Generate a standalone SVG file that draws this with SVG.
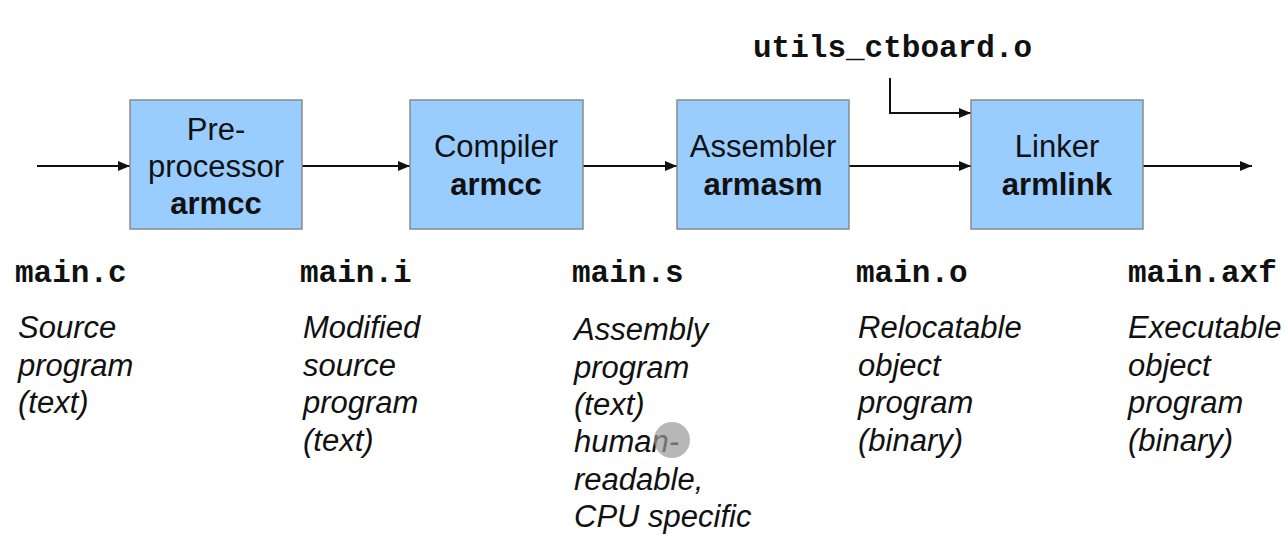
<svg xmlns="http://www.w3.org/2000/svg" width="1286" height="552" viewBox="0 0 1286 552">
<style>
.box{fill:#99CCFF;stroke:#8a8a8a;stroke-width:1.5}
.t{font-family:"Liberation Sans",Arial,sans-serif;font-size:31px;fill:#111;text-anchor:middle}
.b{font-weight:bold}
.m{font-family:"Liberation Mono","Courier New",monospace;font-size:31px;font-weight:bold;fill:#111}
.i{font-family:"Liberation Sans",Arial,sans-serif;font-size:31px;font-style:italic;fill:#111}
.c{fill:none;stroke:#111;stroke-width:2}
</style>
<defs>
<marker id="ah" viewBox="0 0 12 10" refX="12" refY="5" markerWidth="12" markerHeight="10" markerUnits="userSpaceOnUse" orient="auto">
<path d="M0,0 L12,5 L0,10 Z" fill="#111"/>
</marker>
</defs>
<rect width="1286" height="552" fill="#fff"/>
<g id="connectors">
<line class="c" x1="37" y1="166" x2="130" y2="166" marker-end="url(#ah)"/>
<line class="c" x1="302" y1="166" x2="410" y2="166" marker-end="url(#ah)"/>
<line class="c" x1="583" y1="166" x2="677" y2="166" marker-end="url(#ah)"/>
<line class="c" x1="849" y1="166" x2="971" y2="166" marker-end="url(#ah)"/>
<line class="c" x1="1143" y1="166" x2="1252" y2="166" marker-end="url(#ah)"/>
<path class="c" d="M890,78 V113 H971" marker-end="url(#ah)"/>
</g>
<g id="preprocessor">
<rect class="box" x="130" y="100" width="172" height="129"/>
<text class="t" x="216" y="140">Pre-</text>
<text class="t" x="216" y="177">processor</text>
<text class="t b" x="216" y="214">armcc</text>
</g>
<g id="compiler">
<rect class="box" x="410" y="100" width="173" height="129"/>
<text class="t" x="496" y="157">Compiler</text>
<text class="t b" x="496" y="195">armcc</text>
</g>
<g id="assembler">
<rect class="box" x="677" y="100" width="172" height="129"/>
<text class="t" x="763" y="157">Assembler</text>
<text class="t b" x="763" y="195">armasm</text>
</g>
<g id="linker">
<rect class="box" x="971" y="100" width="172" height="129"/>
<text class="t" x="1057" y="157">Linker</text>
<text class="t b" x="1057" y="195">armlink</text>
</g>
<g id="utils">
<text class="m" x="753" y="57">utils_ctboard.o</text>
</g>
<g id="main-c">
<text class="m" x="15" y="282">main.c</text>
<text class="i" x="18" y="338">Source</text>
<text class="i" x="18" y="376">program</text>
<text class="i" x="18" y="413">(text)</text>
</g>
<g id="main-i">
<text class="m" x="300" y="282">main.i</text>
<text class="i" x="303" y="338">Modified</text>
<text class="i" x="303" y="376">source</text>
<text class="i" x="303" y="413">program</text>
<text class="i" x="303" y="451">(text)</text>
</g>
<g id="main-s">
<text class="m" x="572" y="282">main.s</text>
<text class="i" x="574" y="340">Assembly</text>
<text class="i" x="574" y="378">program</text>
<text class="i" x="574" y="415">(text)</text>
<text class="i" x="574" y="452">human-</text>
<text class="i" x="574" y="490">readable,</text>
<text class="i" x="574" y="527">CPU specific</text>
</g>
<g id="main-o">
<text class="m" x="856" y="282">main.o</text>
<text class="i" x="858" y="338">Relocatable</text>
<text class="i" x="858" y="376">object</text>
<text class="i" x="858" y="413">program</text>
<text class="i" x="858" y="451">(binary)</text>
</g>
<g id="main-axf">
<text class="m" x="1128" y="282">main.axf</text>
<text class="i" x="1128" y="338">Executable</text>
<text class="i" x="1128" y="376">object</text>
<text class="i" x="1128" y="413">program</text>
<text class="i" x="1128" y="451">(binary)</text>
</g>
<circle cx="672" cy="440" r="18" fill="#999" opacity="0.7"/>
</svg>
